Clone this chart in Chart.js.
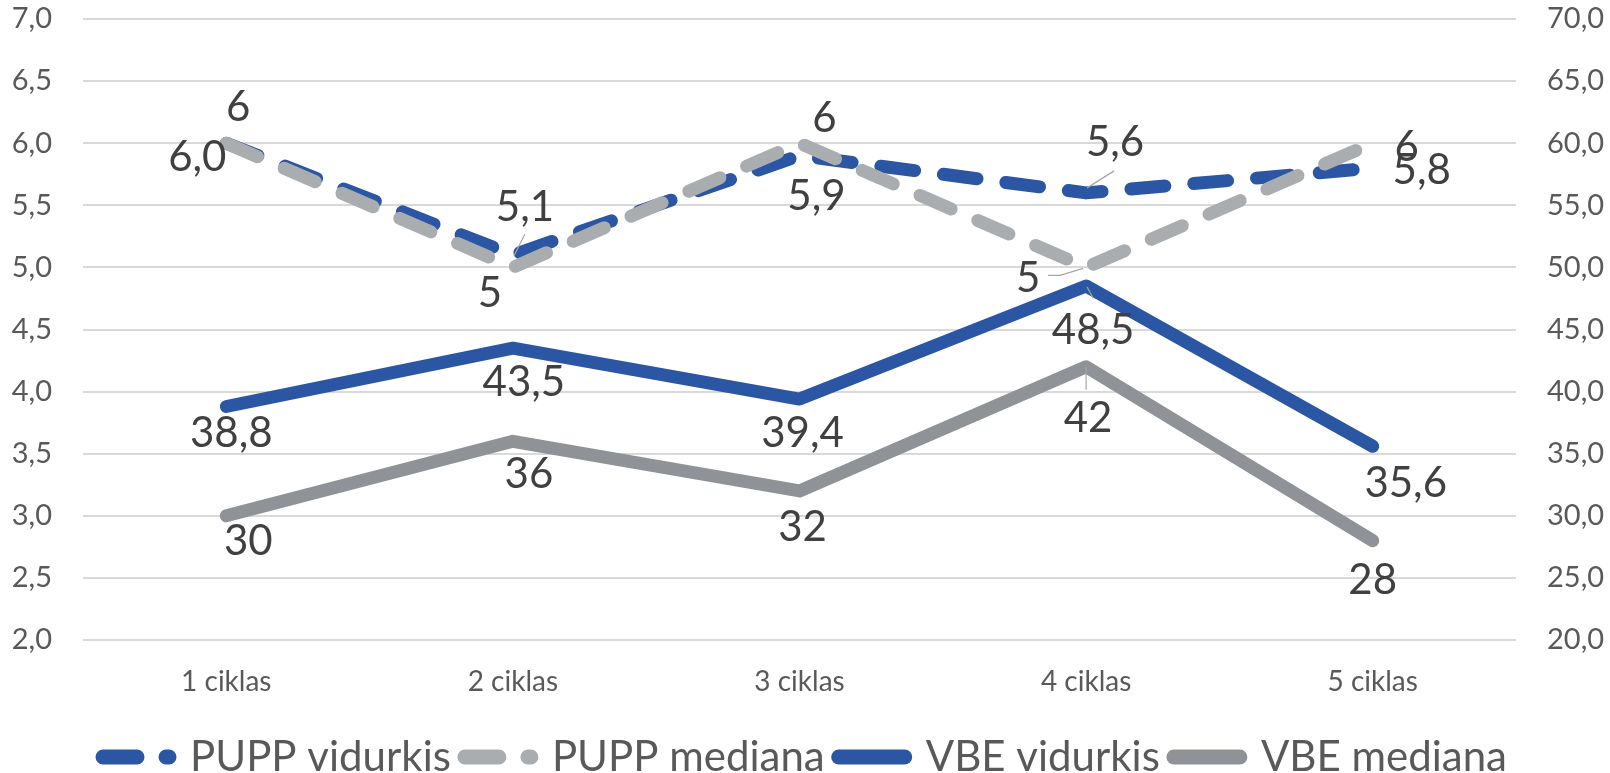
<!DOCTYPE html>
<html>
<head>
<meta charset="utf-8">
<script src="https://cdn.jsdelivr.net/npm/chart.js@4.4.1/dist/chart.umd.min.js"></script>
<style>
  html, body { margin: 0; padding: 0; background: #fff; }
  #wrap { width: 1610px; height: 773px; }
</style>
</head>
<body>
<div id="wrap"><canvas id="cyclesChart" width="1610" height="773"></canvas></div>
<script>
// data
const cycles = ["1 ciklas", "2 ciklas", "3 ciklas", "4 ciklas", "5 ciklas"];
const puppAvg = [6.0, 5.1, 5.9, 5.6, 5.8];
const puppMedian = [6, 5, 6, 5, 6];
const vbeAvg = [38.8, 43.5, 39.4, 48.5, 35.6];
const vbeMedian = [30, 36, 32, 42, 28];

const leftMin = 2, leftMax = 7, leftStep = 0.5;
const rightMin = 20, rightMax = 70, rightStep = 5;

// colours
const blue = "#2A56A4";
const lightGray = "#A9ADB0";
const darkGray = "#8F9397";

// where each value label sits relative to its point (px)
const labelOffsets = [
  [[-29, 14], [12, -48], [17, 41], [29, -50], [49, 2]],
  [[12, -36], [-23, 26], [25, -25], [-58, 11], [34, 4]],
  [[5, 27], [11, 34], [3, 34], [7, 44], [33, 37]],
  [[22, 26], [16, 33], [3, 36], [2, 52], [0, 40]],
];
const labelDecimals = [1, 0, 1, 0];

// small leader lines: [datasetIndex, pointIndex, [x,y]...]
const leaders = [
  [0, 1, [[1, 1], [12, -21]]],
  [0, 3, [[1, -5], [28, -22]]],
  [1, 3, [[-3, 1], [-26, 8], [-38, 8]]],
  [2, 3, [[1, 1], [7, 12]]],
  [3, 3, [[0, 0], [0, 23]]],
];

const fmt = (v, d) => v.toFixed(d).replace(".", ",");

const valueLabels = {
  id: "valueLabels",
  afterDatasetsDraw(chart) {
    const ctx = chart.ctx;
    ctx.save();
    ctx.strokeStyle = "#A6A6A6";
    ctx.lineWidth = 1.2;
    leaders.forEach(([di, pi, pts]) => {
      const p = chart.getDatasetMeta(di).data[pi];
      ctx.beginPath();
      pts.forEach(([dx, dy], k) => {
        if (k === 0) ctx.moveTo(p.x + dx, p.y + dy);
        else ctx.lineTo(p.x + dx, p.y + dy);
      });
      ctx.stroke();
    });
    ctx.font = "42px Lato";
    ctx.fillStyle = "#404040";
    ctx.textAlign = "center";
    ctx.textBaseline = "middle";
    chart.data.datasets.forEach((ds, i) => {
      const meta = chart.getDatasetMeta(i);
      meta.data.forEach((pt, j) => {
        const [dx, dy] = labelOffsets[i][j];
        ctx.fillText(fmt(ds.data[j], labelDecimals[i]), pt.x + dx, pt.y + dy);
      });
    });
    ctx.restore();
  },
};

const lineBase = {
  fill: false,
  tension: 0,
  pointRadius: 0,
  pointHoverRadius: 0,
  borderCapStyle: "round",
  borderJoinStyle: "round",
};

// keep the y axes from reserving room above/below the plot
const noVerticalPad = (scale) => {
  scale.paddingTop = 0;
  scale.paddingBottom = 0;
};

const ctx = document.getElementById("cyclesChart").getContext("2d");
new Chart(ctx, {
  type: "line",
  data: {
    labels: cycles,
    datasets: [
      {
        ...lineBase,
        label: "PUPP vidurkis",
        data: puppAvg,
        yAxisID: "y",
        borderColor: blue,
        backgroundColor: blue,
        borderWidth: 13,
        borderDash: [34, 29],
        order: 1,
      },
      {
        ...lineBase,
        label: "PUPP mediana",
        data: puppMedian,
        yAxisID: "y",
        borderColor: lightGray,
        backgroundColor: lightGray,
        borderWidth: 13,
        borderDash: [34, 29],
        order: 0,
      },
      {
        ...lineBase,
        label: "VBE vidurkis",
        data: vbeAvg,
        yAxisID: "y1",
        borderColor: blue,
        backgroundColor: blue,
        borderWidth: 13,
        order: 2,
      },
      {
        ...lineBase,
        label: "VBE mediana",
        data: vbeMedian,
        yAxisID: "y1",
        borderColor: darkGray,
        backgroundColor: darkGray,
        borderWidth: 13,
        order: 3,
      },
    ],
  },
  options: {
    responsive: false,
    animation: false,
    layout: { padding: { top: 19, bottom: -15, left: 0, right: 0 } },
    plugins: {
      tooltip: { enabled: false },
      legend: {
        position: "bottom",
        labels: {
          usePointStyle: true,
          pointStyle: "line",
          pointStyleWidth: 66,
          padding: 14,
          color: "#595959",
          font: { family: "Lato", size: 42 },
          generateLabels: (chart) =>
            chart.data.datasets.map((ds, i) => ({
              text: ds.label,
              datasetIndex: i,
              strokeStyle: ds.borderColor,
              fillStyle: ds.borderColor,
              lineWidth: 15,
              lineDash: ds.borderDash || [],
              lineCap: "round",
              pointStyle: "line",
              fontColor: "#595959",
              hidden: false,
            })),
        },
      },
    },
    scales: {
      x: {
        offset: true,
        grid: { display: false, drawTicks: false },
        border: { display: false },
        ticks: {
          color: "#595959",
          font: { family: "Lato", size: 28 },
          padding: 25,
        },
        afterFit: (scale) => {
          scale.height = 82;
        },
      },
      y: {
        position: "left",
        min: leftMin,
        max: leftMax,
        grid: { color: "#D9D9D9", lineWidth: 2, drawTicks: false },
        border: { display: false },
        ticks: {
          stepSize: leftStep,
          color: "#595959",
          padding: 31,
          font: { family: "Lato", size: 29 },
          callback: (v) => fmt(v, 1),
        },
        afterFit: (scale) => {
          scale.width = 83;
          noVerticalPad(scale);
        },
      },
      y1: {
        position: "right",
        min: rightMin,
        max: rightMax,
        grid: { display: false, drawTicks: false },
        border: { display: false },
        ticks: {
          stepSize: rightStep,
          color: "#595959",
          padding: 31,
          font: { family: "Lato", size: 29 },
          callback: (v) => fmt(v, 1),
        },
        afterFit: (scale) => {
          scale.width = 94;
          noVerticalPad(scale);
        },
      },
    },
  },
  plugins: [valueLabels],
});
</script>
</body>
</html>
